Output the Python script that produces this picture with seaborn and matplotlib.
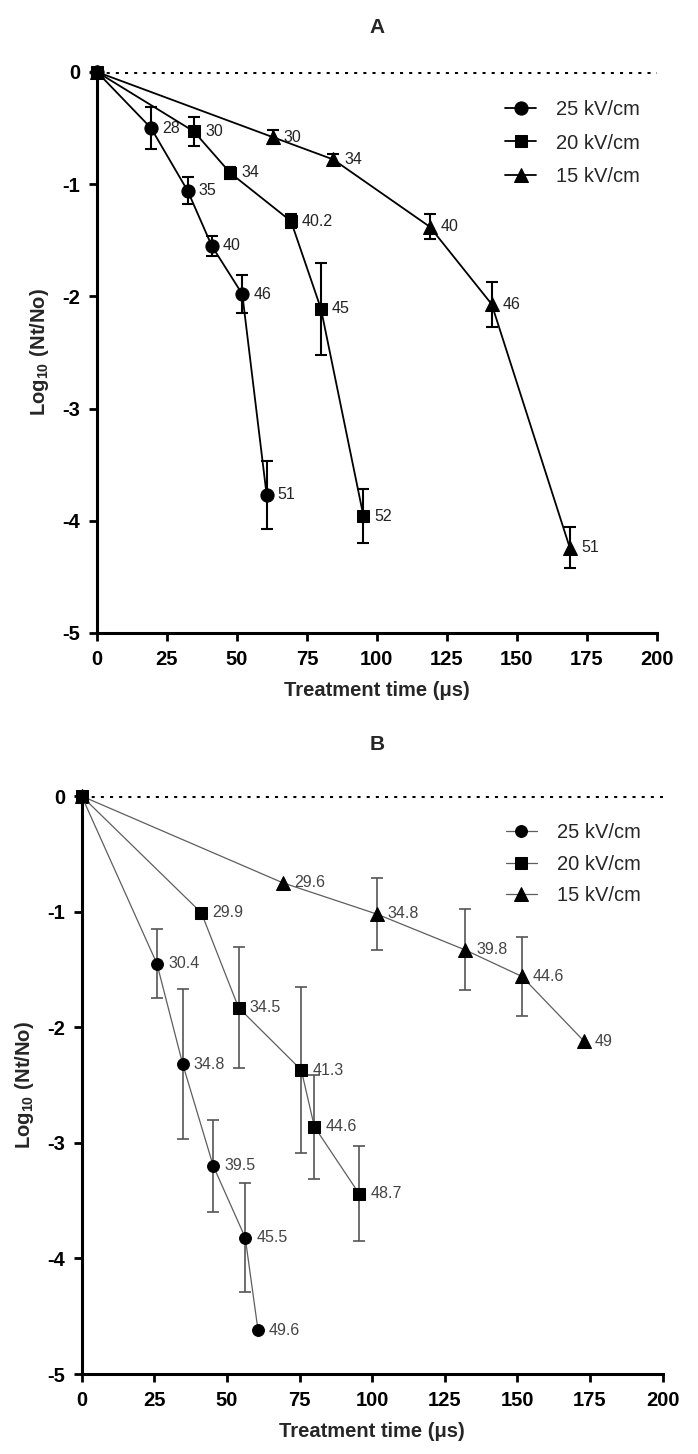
import numpy as np
import pandas as pd
import matplotlib
matplotlib.use("Agg")
import matplotlib.pyplot as plt
import seaborn as sns

# ---- panel A data (treatment time, log reduction, error, temperature label)
a25_t = [0, 19.3, 32.4, 41.0, 51.9, 60.6]
a25_y = [0, -0.50, -1.06, -1.55, -1.98, -3.77]
a25_e = [0, 0.19, 0.12, 0.09, 0.17, 0.30]
a25_lab = ["", "28", "35", "40", "46", "51"]

a20_t = [0, 34.6, 47.6, 69.3, 80.0, 95.2]
a20_y = [0, -0.53, -0.90, -1.33, -2.11, -3.96]
a20_e = [0, 0.13, 0.05, 0.06, 0.41, 0.24]
a20_lab = ["", "30", "34", "40.2", "45", "52"]

a15_t = [0, 62.7, 84.4, 118.9, 141.0, 168.9]
a15_y = [0, -0.58, -0.78, -1.38, -2.07, -4.24]
a15_e = [0, 0.06, 0.05, 0.11, 0.20, 0.18]
a15_lab = ["", "30", "34", "40", "46", "51"]

# ---- panel B data
b25_t = [0, 25.9, 34.8, 45.3, 56.3, 60.7]
b25_y = [0, -1.45, -2.32, -3.20, -3.82, -4.62]
b25_e = [0, 0.30, 0.65, 0.40, 0.47, 0]
b25_lab = ["", "30.4", "34.8", "39.5", "45.5", "49.6"]

b20_t = [0, 41.2, 54.0, 75.6, 80.1, 95.5]
b20_y = [0, -1.01, -1.83, -2.37, -2.86, -3.44]
b20_e = [0, 0, 0.52, 0.72, 0.45, 0.41]
b20_lab = ["", "29.9", "34.5", "41.3", "44.6", "48.7"]

b15_t = [0, 69.2, 101.5, 131.9, 151.5, 172.9]
b15_y = [0, -0.75, -1.02, -1.33, -1.56, -2.12]
b15_e = [0, 0, 0.31, 0.35, 0.34, 0]
b15_lab = ["", "29.6", "34.8", "39.8", "44.6", "49"]

series_names = ["25 kV/cm", "20 kV/cm", "15 kV/cm"]
x_ticks = [0, 25, 50, 75, 100, 125, 150, 175, 200]
y_ticks = [-5, -4, -3, -2, -1, 0]

sns.set_style("ticks")
plt.rcParams["font.family"] = ["Liberation Sans", "DejaVu Sans"]
plt.rcParams["axes.unicode_minus"] = False
plt.rcParams["mathtext.fontset"] = "custom"
plt.rcParams["mathtext.rm"] = "Liberation Sans"
plt.rcParams["mathtext.bf"] = "Liberation Sans:bold"

fig = plt.figure(figsize=(6.98, 14.54), dpi=100)
axA = fig.add_axes([0.139, 0.5647, 0.802, 0.3858])
axB = fig.add_axes([0.117, 0.055, 0.8324, 0.3975])


def draw_panel(ax, data, line_col, err_col, txt_col, lw, elw, sizes):
    markers = {"25 kV/cm": "o", "20 kV/cm": "s", "15 kV/cm": "^"}
    handles = {}
    # draw 15 first, squares last so the origin shows a square
    for name in ["15 kV/cm", "25 kV/cm", "20 kV/cm"]:
        t, y, e, lab = data[name]
        df = pd.DataFrame({"t": t, "y": y})
        sns.lineplot(data=df, x="t", y="y", ax=ax, sort=False, errorbar=None,
                     color=line_col, lw=lw, marker=markers[name],
                     markersize=sizes[name], markerfacecolor="black",
                     markeredgecolor="black", clip_on=False, label=name, zorder=3)
        handles[name] = ax.get_lines()[-1]
        e = np.array(e, dtype=float)
        m = e > 0
        ax.errorbar(np.array(t)[m], np.array(y)[m], yerr=e[m], fmt="none",
                    ecolor=err_col, elinewidth=elw, capsize=4.5, capthick=elw,
                    zorder=2)
        for xi, yi, s in zip(t, y, lab):
            if s:
                ax.annotate(s, (xi, yi), xytext=(8, 0), textcoords="offset points",
                            va="center", ha="left", fontsize=11.5, color=txt_col)
    return handles


dataA = {"25 kV/cm": (a25_t, a25_y, a25_e, a25_lab),
         "20 kV/cm": (a20_t, a20_y, a20_e, a20_lab),
         "15 kV/cm": (a15_t, a15_y, a15_e, a15_lab)}
dataB = {"25 kV/cm": (b25_t, b25_y, b25_e, b25_lab),
         "20 kV/cm": (b20_t, b20_y, b20_e, b20_lab),
         "15 kV/cm": (b15_t, b15_y, b15_e, b15_lab)}

hA = draw_panel(axA, dataA, "black", "black", "#222222", 1.3, 1.5,
                {"25 kV/cm": 9.5, "20 kV/cm": 8.5, "15 kV/cm": 10.5})
hB = draw_panel(axB, dataB, "#5e5e5e", "#555555", "#444444", 0.9, 1.2,
                {"25 kV/cm": 8.5, "20 kV/cm": 8.5, "15 kV/cm": 10.5})

for ax, h, anchor, spacing, title, ty in [
        (axA, hA, (0.729, 0.950), 0.72, "A", 1 - 27.5 / 1454),
        (axB, hB, (0.730, 0.953), 0.62, "B", 1 - 745 / 1454)]:
    ax.axhline(0, color="black", lw=2.2, ls=(0, (1, 2)), zorder=1)
    ax.set_xlim(0, 200)
    ax.set_ylim(-5, 0)
    ax.set_xticks(x_ticks)
    ax.set_yticks(y_ticks)
    ax.set_xticklabels([str(v) for v in x_ticks], fontweight="bold")
    ax.set_yticklabels([str(v) for v in y_ticks], fontweight="bold")
    ax.tick_params(direction="out", length=6, width=2, labelsize=14.5, pad=6,
                   color="black", labelcolor="black")
    sns.despine(ax=ax)
    for sp in ["left", "bottom"]:
        ax.spines[sp].set_linewidth(2.2)
        ax.spines[sp].set_color("black")
    ax.set_xlabel("Treatment time (μs)", fontsize=14.5, fontweight="bold", labelpad=9)
    ax.set_ylabel(r"$\mathbf{Log_{10}\ (Nt/No)}$", fontsize=14.5, labelpad=8)
    ax.legend([h[n] for n in series_names], series_names, loc="upper left",
              bbox_to_anchor=anchor, frameon=False, fontsize=14.5,
              handlelength=1.55, handletextpad=1.0, labelspacing=spacing,
              borderpad=0, borderaxespad=0)
    fig.text(0.54, ty, title, ha="center", va="center", fontsize=15,
             fontweight="bold")

fig.savefig("out.png", dpi=100)
